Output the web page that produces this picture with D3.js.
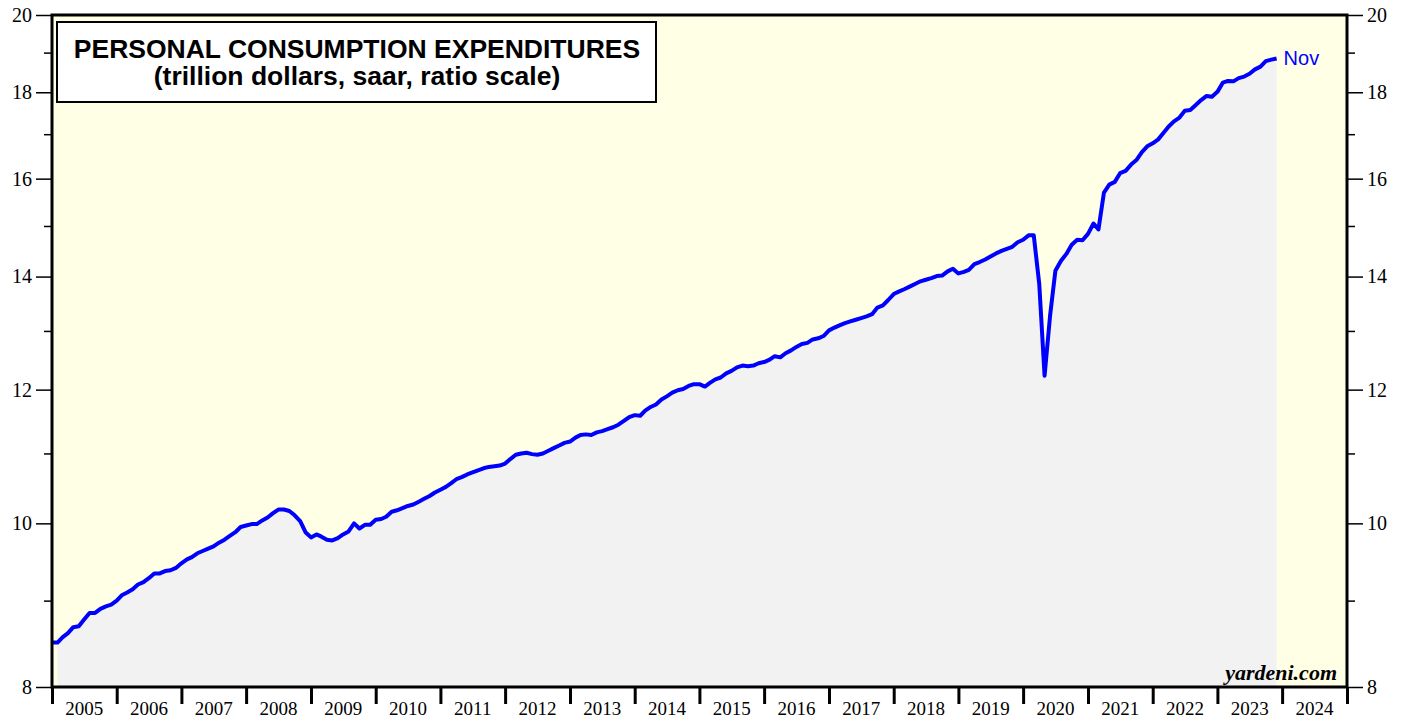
<!DOCTYPE html>
<html>
<head>
<meta charset="utf-8">
<script src="https://cdn.jsdelivr.net/npm/d3@7"></script>
<style>
  html, body { margin: 0; padding: 0; background: #fff; }
  svg { display: block; }
</style>
</head>
<body>
<div id="chart"></div>
<script>
/** Data: monthly PCE, trillion $ saar, Jan 2005 .. Nov 2023 **/
const startYear = 2005;
const dec2004 = 8.50;
const pce2005 = [8.50, 8.56, 8.61, 8.68, 8.69, 8.77, 8.85, 8.85, 8.90, 8.93, 8.95, 9.00];
const pce2006 = [9.07, 9.10, 9.14, 9.20, 9.23, 9.28, 9.34, 9.34, 9.37, 9.38, 9.41, 9.47];
const pce2007 = [9.52, 9.55, 9.60, 9.63, 9.66, 9.69, 9.74, 9.78, 9.83, 9.88, 9.95, 9.97];
const pce2008 = [9.99, 9.99, 10.04, 10.08, 10.14, 10.19, 10.19, 10.17, 10.11, 10.03, 9.88, 9.81];
const pce2009 = [9.85, 9.82, 9.78, 9.77, 9.80, 9.85, 9.89, 10.00, 9.93, 9.98, 9.98, 10.05];
const pce2010 = [10.06, 10.09, 10.16, 10.18, 10.21, 10.24, 10.26, 10.30, 10.34, 10.38, 10.43, 10.47];
const pce2011 = [10.51, 10.56, 10.62, 10.65, 10.69, 10.72, 10.75, 10.78, 10.80, 10.81, 10.82, 10.85];
const pce2012 = [10.92, 10.98, 11.00, 11.01, 10.99, 10.98, 11.00, 11.04, 11.08, 11.12, 11.16, 11.18];
const pce2013 = [11.24, 11.28, 11.29, 11.28, 11.32, 11.34, 11.37, 11.40, 11.44, 11.50, 11.56, 11.59];
const pce2014 = [11.58, 11.66, 11.72, 11.76, 11.84, 11.89, 11.95, 11.99, 12.01, 12.06, 12.09, 12.09];
const pce2015 = [12.05, 12.11, 12.17, 12.20, 12.27, 12.31, 12.37, 12.40, 12.39, 12.40, 12.44, 12.46];
const pce2016 = [12.50, 12.56, 12.54, 12.61, 12.66, 12.72, 12.77, 12.79, 12.85, 12.87, 12.91, 13.01];
const pce2017 = [13.06, 13.10, 13.14, 13.17, 13.20, 13.23, 13.26, 13.30, 13.42, 13.46, 13.56, 13.67];
const pce2018 = [13.72, 13.76, 13.81, 13.86, 13.91, 13.94, 13.97, 14.01, 14.02, 14.10, 14.15, 14.06];
const pce2019 = [14.09, 14.13, 14.24, 14.28, 14.33, 14.39, 14.45, 14.50, 14.54, 14.58, 14.67, 14.72];
const pce2020 = [14.81, 14.81, 13.86, 12.23, 13.27, 14.11, 14.30, 14.44, 14.62, 14.72, 14.71, 14.84];
const pce2021 = [15.05, 14.93, 15.70, 15.87, 15.93, 16.12, 16.17, 16.31, 16.41, 16.59, 16.72, 16.79];
const pce2022 = [16.88, 17.02, 17.18, 17.30, 17.39, 17.55, 17.57, 17.69, 17.81, 17.91, 17.89, 18.01];
const pce2023 = [18.24, 18.28, 18.27, 18.35, 18.39, 18.46, 18.57, 18.64, 18.78, 18.82, 18.85];

const yMajor = [8, 10, 12, 14, 16, 18, 20];
const yMinor = [9, 11, 13, 15, 17, 19];
const years = d3.range(2005, 2025);

const titleLines = ['PERSONAL CONSUMPTION EXPENDITURES', '(trillion dollars, saar, ratio scale)'];
const lastLabel = 'Nov';
const source = 'yardeni.com';

/** Build series (each month plotted at its end) **/
const monthly = [pce2005, pce2006, pce2007, pce2008, pce2009, pce2010, pce2011, pce2012,
  pce2013, pce2014, pce2015, pce2016, pce2017, pce2018, pce2019, pce2020, pce2021,
  pce2022, pce2023].flat();
const series = monthly.map((v, i) => ({ date: new Date(startYear, i + 1, 1), value: v }));
const lineData = [{ date: new Date(startYear, 0, 1), value: dec2004 }, ...series];

/** SVG **/
const width = 1407;
const height = 719;
const plot = { left: 52, right: 1347, top: 15, bottom: 687 };

const svg = d3.select('#chart').append('svg')
  .attr('width', width)
  .attr('height', height);

const x = d3.scaleTime()
  .domain([new Date(2005, 0, 1), new Date(2025, 0, 1)])
  .range([plot.left, plot.right]);
const y = d3.scaleLog()
  .domain([8, 20])
  .range([plot.bottom, plot.top]);

// background
svg.append('rect')
  .attr('x', plot.left).attr('y', plot.top)
  .attr('width', plot.right - plot.left).attr('height', plot.bottom - plot.top)
  .attr('fill', '#ffffe5');

svg.append('clipPath').attr('id', 'clip')
  .append('rect')
  .attr('x', plot.left).attr('y', plot.top)
  .attr('width', plot.right - plot.left).attr('height', plot.bottom - plot.top);

const g = svg.append('g').attr('clip-path', 'url(#clip)');

// shaded area under the line
g.append('path')
  .datum(series)
  .attr('fill', '#f2f2f2')
  .attr('d', d3.area().x((d) => x(d.date)).y0(plot.bottom).y1((d) => y(d.value)));

// line
g.append('path')
  .datum(lineData)
  .attr('fill', 'none')
  .attr('stroke', '#0000ff')
  .attr('stroke-width', 4)
  .attr('stroke-linejoin', 'round')
  .attr('d', d3.line().x((d) => x(d.date)).y((d) => y(d.value)));

// frame
svg.append('rect')
  .attr('x', plot.left).attr('y', plot.top)
  .attr('width', plot.right - plot.left).attr('height', plot.bottom - plot.top)
  .attr('fill', 'none')
  .attr('stroke', '#000')
  .attr('stroke-width', 3);

/** Y axes, left and right **/
const serif = '"Liberation Serif", "Times New Roman", serif';
const sans = '"Liberation Sans", Arial, sans-serif';

function yAxis(axisFn, xPos) {
  const major = svg.append('g')
    .attr('transform', `translate(${xPos},0)`)
    .call(axisFn(y).tickValues(yMajor).tickFormat(d3.format('d')).tickSize(16).tickPadding(4));
  major.select('.domain').remove();
  major.selectAll('line').attr('stroke', '#000').attr('stroke-width', 1.5);
  major.selectAll('text').attr('font-family', serif).attr('font-size', 20).attr('fill', '#000');
  const minor = svg.append('g')
    .attr('transform', `translate(${xPos},0)`)
    .call(axisFn(y).tickValues(yMinor).tickFormat('').tickSize(8));
  minor.select('.domain').remove();
  minor.selectAll('line').attr('stroke', '#000').attr('stroke-width', 1.5);
}
yAxis(d3.axisLeft, plot.left);
yAxis(d3.axisRight, plot.right);

/** X axis: year boundaries, labels centred in each year **/
const xAxis = svg.append('g')
  .attr('transform', `translate(0,${plot.bottom})`)
  .call(d3.axisBottom(x)
    .tickValues(years.concat([2025]).map((yr) => new Date(yr, 0, 1)))
    .tickFormat('')
    .tickSize(17));
xAxis.select('.domain').remove();
xAxis.selectAll('line').attr('stroke', '#000').attr('stroke-width', 3);

svg.append('g')
  .selectAll('text')
  .data(years)
  .join('text')
  .attr('x', (d) => (x(new Date(d, 0, 1)) + x(new Date(d + 1, 0, 1))) / 2)
  .attr('y', 715)
  .attr('text-anchor', 'middle')
  .attr('font-family', serif)
  .attr('font-size', 19)
  .text((d) => d);

/** Title box **/
svg.append('rect')
  .attr('x', 57).attr('y', 22)
  .attr('width', 599).attr('height', 80)
  .attr('fill', '#fff')
  .attr('stroke', '#000')
  .attr('stroke-width', 2);

svg.append('g')
  .selectAll('text')
  .data(titleLines)
  .join('text')
  .attr('x', 357)
  .attr('y', (d, i) => 58 + i * 27)
  .attr('text-anchor', 'middle')
  .attr('font-family', sans)
  .attr('font-weight', 'bold')
  .attr('font-size', 26.5)
  .text((d) => d);

/** Last value label **/
const last = series[series.length - 1];
svg.append('text')
  .attr('x', x(last.date) + 7)
  .attr('y', y(last.value) + 7)
  .attr('font-family', sans)
  .attr('font-size', 20)
  .attr('fill', '#0000ff')
  .text(lastLabel);

/** Source **/
svg.append('text')
  .attr('x', 1337)
  .attr('y', 680)
  .attr('text-anchor', 'end')
  .attr('font-family', serif)
  .attr('font-weight', 'bold')
  .attr('font-style', 'italic')
  .attr('font-size', 22)
  .text(source);
</script>
</body>
</html>
